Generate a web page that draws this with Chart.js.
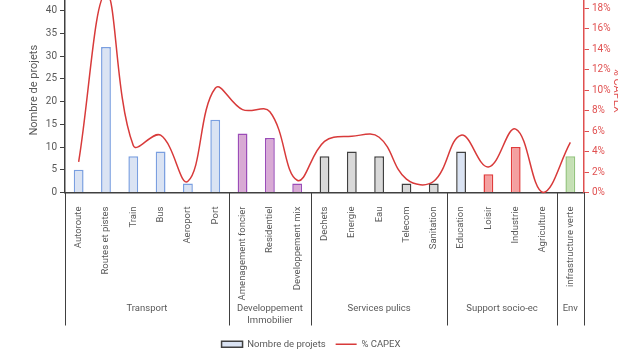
<!DOCTYPE html>
<html lang="fr">
<head>
<meta charset="UTF-8">
<title>Projets et CAPEX</title>
<script src="https://cdn.jsdelivr.net/npm/chart.js"></script>
<style>
    body { margin: 0; width: 618px; height: 362px; overflow: hidden; background: #fff; position: relative; }
    #wrap { position: absolute; left: 0; top: -21px; width: 622px; height: 383px; }
</style>
</head>
<body>
<div id="wrap"><canvas id="chart"></canvas></div>

<script>
    const categories = ['Autoroute', 'Routes et pistes', 'Train', 'Bus', 'Aeroport', 'Port',
        'Amenagement foncier', 'Residentiel', 'Developpement mix',
        'Dechets', 'Energie', 'Eau', 'Telecom', 'Sanitation',
        'Education', 'Loisir', 'Industrie', 'Agriculture',
        'infrastructure verte'];
    const projets = [5, 32, 8, 9, 2, 16, 13, 12, 2, 8, 9, 8, 2, 2, 9, 4, 10, 0, 8];
    const capex = [3.0, 19.5, 4.6, 5.6, 1.1, 10.2, 8.1, 7.9, 1.2, 5.0, 5.5, 5.4, 1.3, 1.1, 5.6, 2.5, 6.2, 0, 4.9];
    const groupNames = ['Transport', ['Developpement', 'Immobilier'], 'Services pulics', 'Support socio-ec', 'Env'];
    const groupSizes = [6, 3, 5, 4, 1];

    // bar styles, one per category
    const blue = ['#dae3f3', '#7a9fe0'], purple = ['#d8aad4', '#9b4db8'], grey = ['#d9d9d9', '#404040'],
        blueDark = ['#dae3f3', '#404040'], red = ['#f4a0a0', '#e03c3c'], green = ['#c5e0b4', '#93c47d'];
    const styles = [blue, blue, blue, blue, blue, blue, purple, purple, purple,
        grey, grey, grey, grey, grey, blueDark, red, red, red, green];

    const textColor = '#595959';
    const fontFamily = 'Roboto, "Liberation Sans", sans-serif';
    Chart.defaults.font.family = fontFamily;
    Chart.defaults.font.size = 10;
    Chart.defaults.color = textColor;

    const groupPlugin = {
        id: 'groups',
        afterDraw(chart) {
            const x = chart.scales.x;
            const ctx = chart.ctx;
            const area = chart.chartArea;
            const top = area.bottom;
            const bottom = top + 133;
            const edges = [area.left];
            let idx = 0;
            groupSizes.forEach(n => {
                idx += n;
                if (idx < categories.length) {
                    edges.push((x.getPixelForValue(idx - 1) + x.getPixelForValue(idx)) / 2);
                }
            });
            edges.push(area.right);
            ctx.save();
            ctx.strokeStyle = '#404040';
            ctx.lineWidth = 1;
            edges.forEach(e => {
                const px = Math.round(e) + 0.5;
                ctx.beginPath();
                ctx.moveTo(px, top);
                ctx.lineTo(px, bottom);
                ctx.stroke();
            });
            ctx.fillStyle = textColor;
            ctx.font = '9.5px ' + fontFamily;
            ctx.textAlign = 'center';
            ctx.textBaseline = 'middle';
            groupNames.forEach((name, i) => {
                const cx = (edges[i] + edges[i + 1]) / 2;
                const lines = Array.isArray(name) ? name : [name];
                lines.forEach((l, j) => ctx.fillText(l, cx, top + 116 + j * 12));
            });
            ctx.restore();
        }
    };

    new Chart(document.getElementById('chart'), {
        data: {
            labels: categories,
            datasets: [{
                type: 'line',
                label: '% CAPEX',
                data: capex,
                yAxisID: 'y2',
                borderColor: '#d83a3a',
                backgroundColor: '#d83a3a',
                borderWidth: 1.5,
                pointRadius: 0,
                tension: 0.4,
                clip: false,
                order: 0,
                pointStyle: 'line'
            }, {
                type: 'bar',
                label: 'Nombre de projets',
                data: projets,
                yAxisID: 'y',
                backgroundColor: styles.map(s => s[0]),
                borderColor: styles.map(s => s[1]),
                borderWidth: 1.5,
                barPercentage: 0.36,
                categoryPercentage: 1,
                order: 1,
                pointStyle: 'rect'
            }]
        },
        options: {
            responsive: true,
            maintainAspectRatio: false,
            animation: false,
            layout: { padding: { top: 0, bottom: 3, left: 0, right: 0 } },
            plugins: {
                tooltip: { enabled: false },
                legend: {
                    position: 'bottom',
                    reverse: true,
                    labels: {
                        usePointStyle: true,
                        pointStyleWidth: 21,
                        boxHeight: 6,
                        padding: 10,
                        color: textColor,
                        font: { size: 9.5 },
                        generateLabels(chart) {
                            const items = Chart.defaults.plugins.legend.labels.generateLabels(chart);
                            items.forEach(it => {
                                if (it.pointStyle === 'rect') {
                                    it.fillStyle = '#dae3f3';
                                    it.strokeStyle = '#404040';
                                    it.lineWidth = 1.5;
                                }
                            });
                            return items;
                        }
                    }
                }
            },
            scales: {
                x: {
                    grid: { display: false },
                    border: { display: true, color: '#404040', width: 1.5 },
                    ticks: { maxRotation: 90, minRotation: 90, autoSkip: false, padding: 6, color: textColor, font: { size: 9.5 } },
                    afterFit: s => { s.height = 137; }
                },
                y: {
                    position: 'left',
                    min: 0, max: 45,
                    ticks: { stepSize: 5, padding: 3, color: textColor },
                    grid: { drawOnChartArea: false, tickLength: 5, color: '#404040' },
                    border: { display: true, color: '#404040', width: 1.5 },
                    title: { display: true, text: 'Nombre de projets', color: textColor, font: { size: 11 }, padding: { top: 28, bottom: 0 } },
                    afterFit: s => { s.width = 65; }
                },
                y2: {
                    position: 'right',
                    min: 0, max: 20,
                    ticks: { stepSize: 2, padding: 3, color: '#e05050', callback: v => v + '%' },
                    grid: { drawOnChartArea: false, tickLength: 5, color: '#e05050' },
                    border: { display: true, color: '#e05050', width: 1.5 },
                    title: { display: true, text: '% CAPEX', color: '#e05050', font: { size: 11 }, padding: { top: -1, bottom: 0 } },
                    afterFit: s => { s.width = 38; }
                }
            }
        },
        plugins: [groupPlugin]
    });
</script>
</body>
</html>
